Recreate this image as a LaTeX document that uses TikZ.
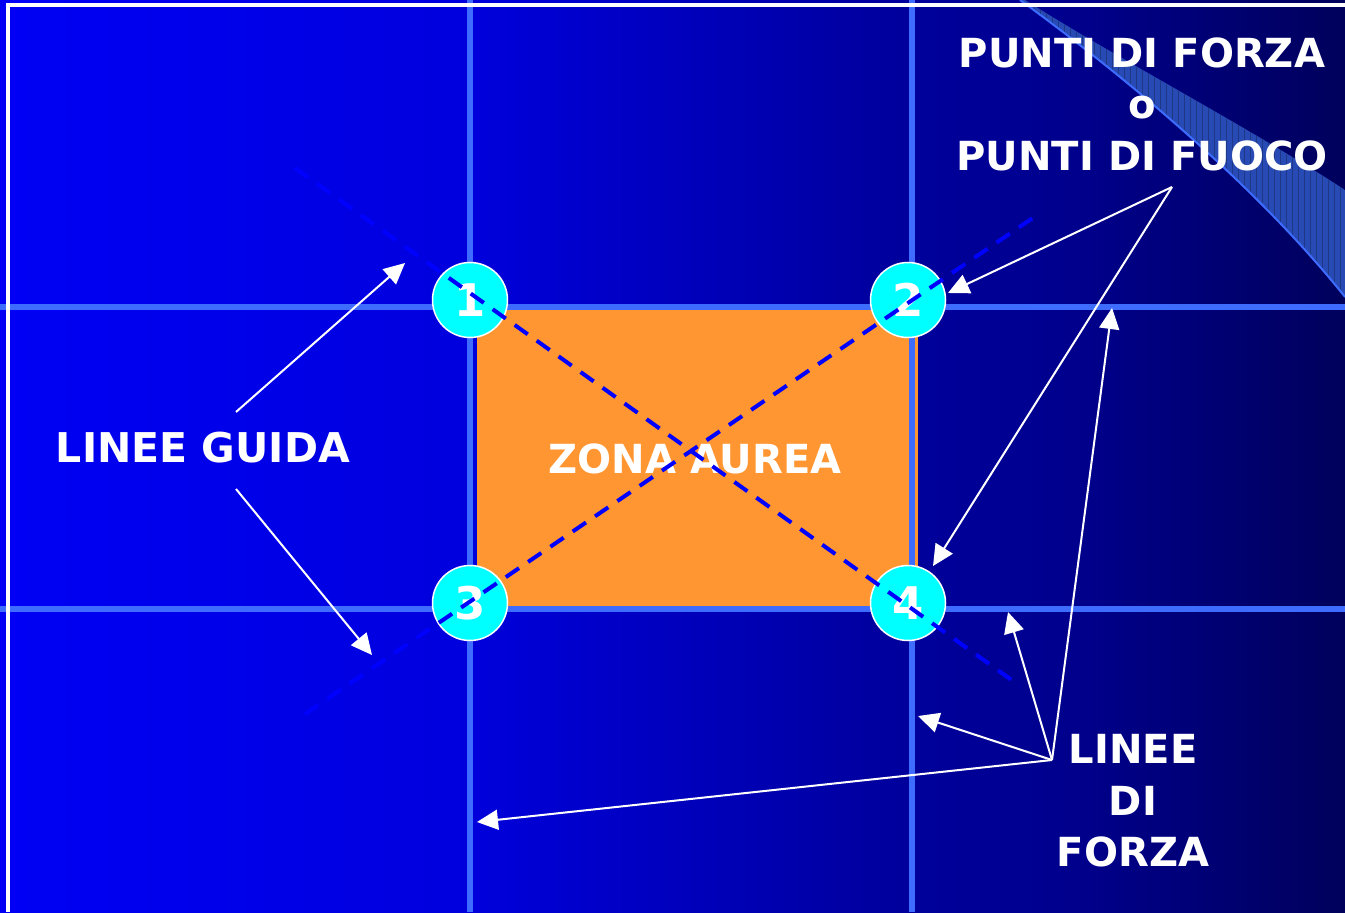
\documentclass[tikz,border=0pt]{standalone}
\usepackage{fontspec}
\setmainfont{DejaVu Sans}
\usetikzlibrary{arrows.meta}

\definecolor{gridblue}{RGB}{62,108,255}
\definecolor{aurea}{RGB}{255,150,50}
\definecolor{bandblue}{RGB}{40,74,180}
\definecolor{pointcyan}{RGB}{0,255,255}
\pgfdeclarehorizontalshading{slidebg}{100bp}{rgb(0bp)=(0,0,0.96); rgb(25bp)=(0,0,0.96); rgb(42bp)=(0,0,0.87); rgb(58bp)=(0,0,0.62); rgb(65bp)=(0,0,0.55); rgb(75bp)=(0,0,0.36); rgb(100bp)=(0,0,0.36)}

\begin{document}
\begin{tikzpicture}[x=0.1mm,y=-0.1mm,
  arrow/.style={-{Triangle[length=2.1mm,width=2mm]}, white, line width=.2mm},
  guide/.style={blue, line width=.4mm, dash pattern=on 1.6mm off 1.1mm},
  point/.style={circle, fill=pointcyan, draw=white, line width=.15mm, minimum size=7.5mm, inner sep=0,
    text=white, font=\fontsize{12.8pt}{14pt}\selectfont\bfseries},
  caption/.style={text=white, inner sep=0, align=center, font=\fontsize{11.4pt}{14.65pt}\selectfont\bfseries}]
\useasboundingbox (0,0) rectangle (1345,912);
\shade[shading=slidebg] (0,0) rectangle (1345,912);

% CORNER BAND
\begin{scope}
\clip (1020,0) .. controls (1130,80) and (1260,190) .. (1345,297) -- (1345,190)
  .. controls (1250,128) and (1120,60) .. (1025,0) -- cycle;
\fill[bandblue] (1000,0) rectangle (1345,300);
\foreach \x in {1022,1028,...,1345}
  \draw[bandblue!75!black, line width=.08mm] (\x,0) -- (\x,300);
\end{scope}
\draw[gridblue, line width=.2mm] (1020,0) .. controls (1130,80) and (1260,190) .. (1345,297);

% ZONA AUREA AND GRID
\fill[aurea] (477,310) rectangle (918,606);
\draw[gridblue, line width=.6mm] (470,0) -- (470,912);
\draw[gridblue, line width=.6mm] (912,0) -- (912,912);
\draw[gridblue, line width=.6mm] (0,307) -- (1345,307);
\draw[gridblue, line width=.6mm] (0,609) -- (1345,609);

\node[point] (p1) at (470,300) {1};
\node[point] (p2) at (908,300) {2};
\node[point] (p3) at (470,603) {3};
\node[point] (p4) at (908,603) {4};

\node[caption, font=\fontsize{11.67pt}{14pt}\selectfont\bfseries] (guida) at (203,448) {LINEE GUIDA};
\node[caption] (zona) at (695,459) {ZONA AUREA};
\node[caption] (punti) at (1142,104) {PUNTI DI FORZA\\o\\PUNTI DI FUOCO};
\node[caption] (forza) at (1133,801) {LINEE\\DI\\FORZA};

% DIAGONALS
\coordinate (d1a) at (295,168);
\coordinate (d1b) at (1020,686);
\coordinate (d2a) at (305,714);
\coordinate (d2b) at (1040,213);
\draw[guide] (d1a) -- (d1b);
\draw[guide] (d2a) -- (d2b);

% ARROWS
\coordinate (gA) at (236,412);
\coordinate (gB) at (236,489);
\coordinate (gtA) at (405,263);
\coordinate (gtB) at (372,655);
\draw[arrow] (gA) -- (gtA);
\draw[arrow] (gB) -- (gtB);

\coordinate (pO) at (1172,187);
\coordinate (ptA) at (948,293);
\coordinate (ptB) at (933,566);
\draw[arrow] (pO) -- (ptA);
\draw[arrow] (pO) -- (ptB);

\coordinate (fO) at (1052,760);
\coordinate (ftA) at (1112,308);
\coordinate (ftB) at (1008,612);
\coordinate (ftC) at (918,716);
\coordinate (ftD) at (477,822);
\foreach \t in {ftA,ftB,ftC,ftD}
  \draw[arrow] (fO) -- (\t);

% FRAME
\fill[white] (6,3) rectangle (1345,7);
\fill[white] (6,3) rectangle (10,912);
\end{tikzpicture}
\end{document}
